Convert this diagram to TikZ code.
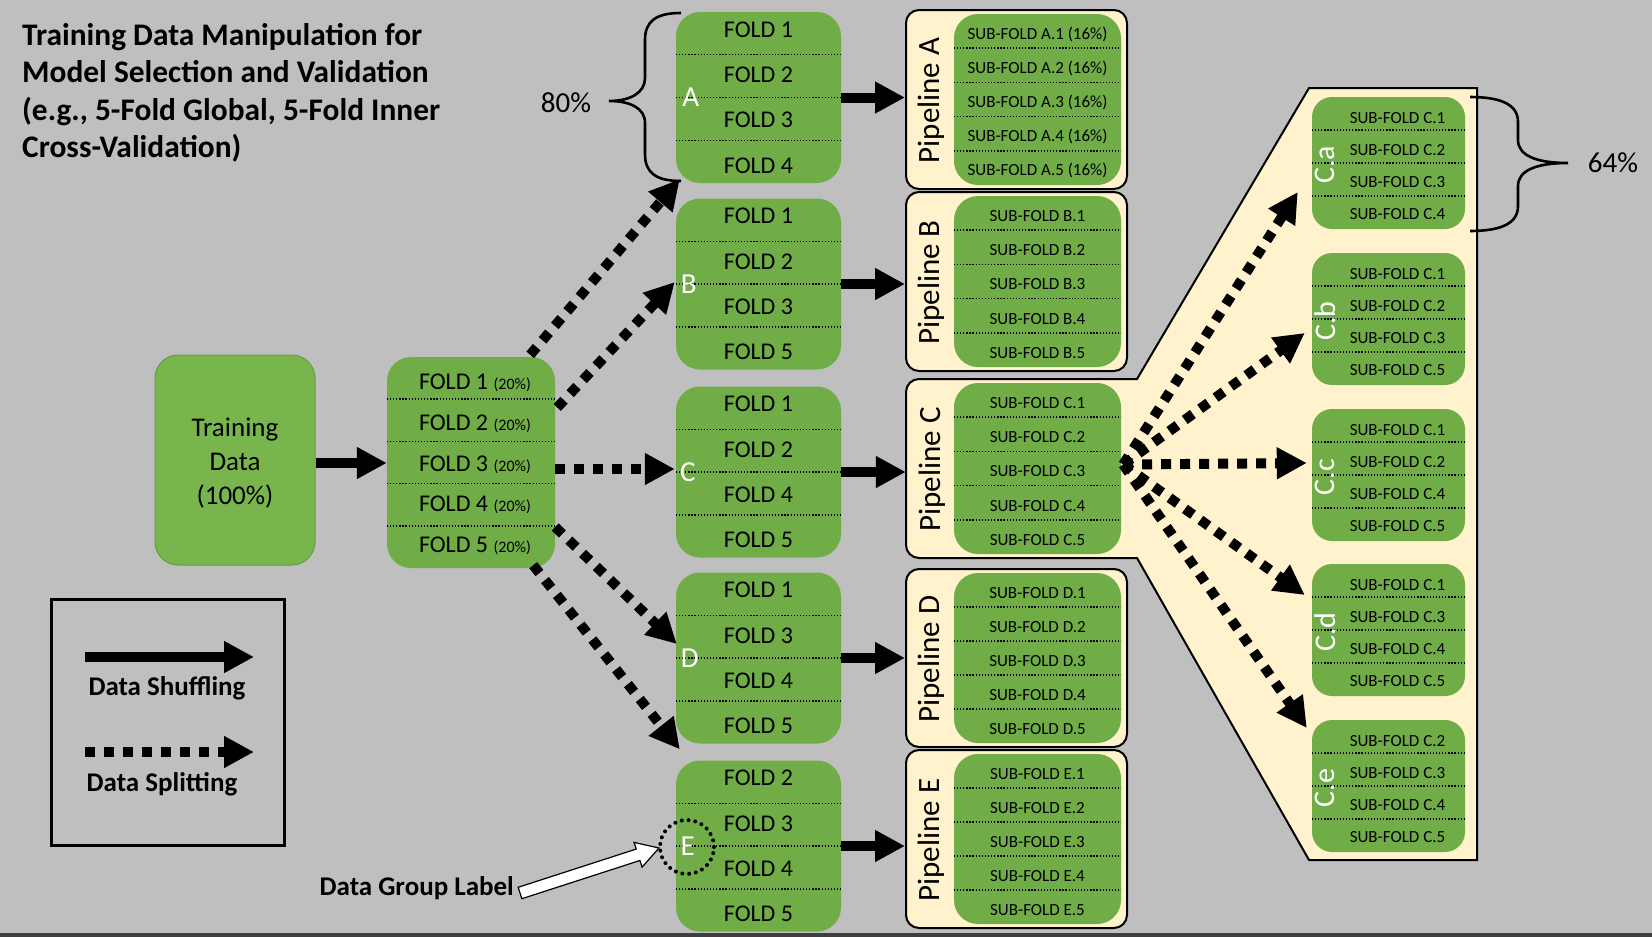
\documentclass[tikz,border=0pt]{standalone}
\usepackage{fontspec}
\setmainfont{Carlito}
\usetikzlibrary{arrows.meta,calc}
\definecolor{bg}{HTML}{BFBFBF}
\definecolor{grn}{HTML}{70AD47}
\definecolor{grnL}{HTML}{79B54D}
\definecolor{grnD}{HTML}{6A9E42}
\definecolor{cream}{HTML}{FFF2CC}
\definecolor{darkband}{HTML}{3F3F3F}
\newcommand{\myfs}[2]{\fontsize{#1}{#2}\selectfont}
% text spacing and vertical offset of the row texts (set before each call)
\def\tsp{40}\def\toff{0}
% name, style, center, width, height, nrows, rowstyle, list
\newcommand{\mkbox}[8]{%
  \node[#2, minimum width=#4pt, minimum height=#5pt] (#1) at (#3) {};
  \foreach \t [count=\i] in {#8} {%
    \node[#7] (#1-\i) at ($(#1.center)+(0,{(\i-(#6+1)/2)*\tsp+\toff})$) {\t};
    \ifnum\i>1
      \draw[sep] ($(#1.north west)!{(\i-1)/#6}!(#1.south west)$) -- ($(#1.north east)!{(\i-1)/#6}!(#1.south east)$);
    \fi
  }%
}
\begin{document}
\begin{tikzpicture}[x=1pt,y=-1pt,
  gbox/.style={fill=grn, rounded corners=24pt, inner sep=0pt},
  sbox/.style={fill=grn, rounded corners=20pt, inner sep=0pt},
  pipebox/.style={draw, line width=2pt, fill=cream, rounded corners=13pt, inner sep=0pt},
  foldtxt/.style={font=\myfs{24}{28}, inner sep=0pt},
  subtxt/.style={font=\myfs{17}{20}, inner sep=0pt},
  ctxt/.style={subtxt, xshift=9pt},
  grp/.style={font=\myfs{29}{34}, text=white, inner sep=0pt},
  pipelabel/.style={font=\myfs{31}{36}, rotate=90, inner sep=0pt},
  clabel/.style={font=\myfs{30}{34}, text=white, rotate=90, inner sep=0pt},
  sep/.style={line width=1.3pt, dash pattern=on 1.3pt off 1.8pt},
  shuf/.style={line width=10pt, -{Triangle[length=30pt,width=30pt]}},
  split/.style={line width=10pt, dash pattern=on 10pt off 9pt, -{Triangle[length=30pt,width=30pt]}},
  brace/.style={line width=2.6pt},
  boldtxt/.style={font=\bfseries\myfs{27}{32}, inner sep=0pt},
  pct/.style={font=\myfs{29}{34}, inner sep=0pt}
]
\fill[bg] (0,0) rectangle (1652,937);
\useasboundingbox (0,0) rectangle (1652,937);
\fill[darkband] (0,933) rectangle (1652,937);

% title
\node[anchor=north west, align=left, font=\bfseries\myfs{31.4}{37.5}, inner sep=0pt] (title) at (22,23)
  {Training Data Manipulation for\\Model Selection and Validation\\(e.g., 5-Fold Global, 5-Fold Inner\\Cross-Validation)};

% training data
\node[fill=grnL, draw=grnD, line width=1pt, rounded corners=23pt, minimum width=160pt, minimum height=210pt,
  inner sep=0pt] (td) at (235,460) {};
\node[align=center, font=\myfs{27}{34}, inner sep=0pt] (tdtxt) at ($(td.center)+(0,3)$) {Training\\Data\\(100\%)};

% main folds
\def\tsp{40.8}\def\toff{2}
\mkbox{mf}{gbox}{471,462.5}{168}{211}{5}{foldtxt, xshift=4pt}{FOLD 1 {\myfs{16}{18}(20\%)},FOLD 2 {\myfs{16}{18}(20\%)},FOLD 3 {\myfs{16}{18}(20\%)},FOLD 4 {\myfs{16}{18}(20\%)},FOLD 5 {\myfs{16}{18}(20\%)}}

% fold groups
\def\tsp{45.4}\def\toff{0}
\mkbox{foldA}{gbox}{758.5,97.5}{165}{171}{4}{foldtxt}{FOLD 1,FOLD 2,FOLD 3,FOLD 4}
\mkbox{foldB}{gbox}{758.5,284}{165}{171}{4}{foldtxt}{FOLD 1,FOLD 2,FOLD 3,FOLD 5}
\mkbox{foldC}{gbox}{758.5,472}{165}{171}{4}{foldtxt}{FOLD 1,FOLD 2,FOLD 4,FOLD 5}
\mkbox{foldD}{gbox}{758.5,658}{165}{171}{4}{foldtxt}{FOLD 1,FOLD 3,FOLD 4,FOLD 5}
\mkbox{foldE}{gbox}{758.5,846}{165}{171}{4}{foldtxt}{FOLD 2,FOLD 3,FOLD 4,FOLD 5}
\node[grp] (lA) at ($(foldA.west)+(15,0)$) {A};
\node[grp] (lB) at ($(foldB.west)+(13,0)$) {B};
\node[grp] (lC) at ($(foldC.west)+(12,0)$) {C};
\node[grp] (lD) at ($(foldD.west)+(14,0)$) {D};
\node[grp] (lE) at ($(foldE.west)+(12,0)$) {E};

% brace 80%
\draw[brace] (681,13) .. controls (655,13) and (645,22) .. (645,40) -- (645,78)
  .. controls (645,93) and (630,101) .. (609,101) .. controls (630,101) and (645,108) .. (645,123)
  -- (645,154) .. controls (645,172) and (655,181) .. (681,181);
\node[pct] (p80) at (566,103) {80\%};

% pipeline C + callout
\draw[line width=2pt, fill=cream] (1000,558) [rounded corners=13pt] -- (906,558) -- (906,379) -- (1000,379)
  [sharp corners] -- (1137,379) -- (1309,88) -- (1477,88) -- (1477,860) -- (1309,860) -- (1137,558) -- cycle;
\node[minimum width=221pt, minimum height=179pt, inner sep=0pt] (pipeC) at (1016.5,468.5) {};

% pipelines
\node[pipebox, minimum width=221pt, minimum height=179pt] (pipeA) at (1016.5,99.5) {};
\node[pipebox, minimum width=221pt, minimum height=179pt] (pipeB) at (1016.5,281.5) {};
\node[pipebox, minimum width=221pt, minimum height=178pt] (pipeD) at (1016.5,658) {};
\node[pipebox, minimum width=221pt, minimum height=178pt] (pipeE) at (1016.5,839) {};

\def\tsp{34.2}\def\toff{3}
\mkbox{pAin}{gbox}{1037.5,99.5}{167}{171}{5}{subtxt}{SUB-FOLD A.1 (16\%),SUB-FOLD A.2 (16\%),SUB-FOLD A.3 (16\%),SUB-FOLD A.4 (16\%),SUB-FOLD A.5 (16\%)}
\mkbox{pBin}{gbox}{1037.5,281.5}{167}{171}{5}{subtxt}{SUB-FOLD B.1,SUB-FOLD B.2,SUB-FOLD B.3,SUB-FOLD B.4,SUB-FOLD B.5}
\mkbox{pCin}{gbox}{1037.5,468.5}{167}{171}{5}{subtxt}{SUB-FOLD C.1,SUB-FOLD C.2,SUB-FOLD C.3,SUB-FOLD C.4,SUB-FOLD C.5}
\mkbox{pDin}{gbox}{1037.5,658}{167}{170}{5}{subtxt}{SUB-FOLD D.1,SUB-FOLD D.2,SUB-FOLD D.3,SUB-FOLD D.4,SUB-FOLD D.5}
\mkbox{pEin}{gbox}{1037.5,839}{167}{170}{5}{subtxt}{SUB-FOLD E.1,SUB-FOLD E.2,SUB-FOLD E.3,SUB-FOLD E.4,SUB-FOLD E.5}

\node[pipelabel] (tA) at ($(pipeA.west)+(26,1)$) {Pipeline A};
\node[pipelabel] (tB) at ($(pipeB.west)+(26,1)$) {Pipeline B};
\node[pipelabel] (tC) at ($(pipeC.west)+(26,1)$) {Pipeline C};
\node[pipelabel] (tD) at ($(pipeD.west)+(26,1)$) {Pipeline D};
\node[pipelabel] (tE) at ($(pipeE.west)+(26,1)$) {Pipeline E};

% inner C sub boxes
\def\tsp{31.8}\def\toff{3}
\mkbox{Ca}{sbox}{1388.5,163}{153}{132}{4}{ctxt}{SUB-FOLD C.1,SUB-FOLD C.2,SUB-FOLD C.3,SUB-FOLD C.4}
\mkbox{Cb}{sbox}{1388.5,319}{153}{132}{4}{ctxt}{SUB-FOLD C.1,SUB-FOLD C.2,SUB-FOLD C.3,SUB-FOLD C.5}
\mkbox{Cc}{sbox}{1388.5,475}{153}{132}{4}{ctxt}{SUB-FOLD C.1,SUB-FOLD C.2,SUB-FOLD C.4,SUB-FOLD C.5}
\mkbox{Cd}{sbox}{1388.5,630}{153}{132}{4}{ctxt}{SUB-FOLD C.1,SUB-FOLD C.3,SUB-FOLD C.4,SUB-FOLD C.5}
\mkbox{Ce}{sbox}{1388.5,786}{153}{132}{4}{ctxt}{SUB-FOLD C.2,SUB-FOLD C.3,SUB-FOLD C.4,SUB-FOLD C.5}
\node[clabel] (la) at ($(Ca.west)+(13,2)$) {C.a};
\node[clabel] (lb) at ($(Cb.west)+(13,2)$) {C.b};
\node[clabel] (lc) at ($(Cc.west)+(13,2)$) {C.c};
\node[clabel] (ld) at ($(Cd.west)+(13,2)$) {C.d};
\node[clabel] (le) at ($(Ce.west)+(13,2)$) {C.e};

% brace 64%
\draw[brace] (1470,97) .. controls (1500,97) and (1518,104) .. (1518,122) -- (1518,140)
  .. controls (1518,155) and (1535,163) .. (1568,163) .. controls (1535,163) and (1518,171) .. (1518,186)
  -- (1518,206) .. controls (1518,224) and (1500,231) .. (1470,231);
\node[pct] (p64) at (1613,163) {64\%};

% shuffling arrows
\draw[shuf] ($(td.east)+(0,3)$) -- ($(td.east -| mf.west)+(0,3)$);
\draw[shuf] (foldA.east) -- (foldA.east -| pipeA.west);
\draw[shuf] (foldB.east) -- (foldB.east -| pipeB.west);
\draw[shuf] (foldC.east) -- (foldC.east -| pipeC.west);
\draw[shuf] (foldD.east) -- (foldD.east -| pipeD.west);
\draw[shuf] (foldE.east) -- (foldE.east -| pipeE.west);

% splitting arrows
\draw[split] ($(mf.north east)+(-25,-2)$) -- ($(foldA.south west)+(4,-4)$);
\draw[split] ($(mf.east)+(2,-55)$) -- ($(foldB.west)+(-1,-2)$);
\draw[split] ($(mf.east)+(0,6.5)$) -- ($(foldC.west)+(-1,-3)$);
\draw[split] ($(mf.east)+(0,64.5)$) -- ($(foldD.west)+(1,-14)$);
\draw[split] ($(mf.south east)+(-22,-3)$) -- ($(foldE.north west)+(4,-11)$);

\coordinate (fan) at ($(pCin.east)+(2,-4)$);
\draw[split] (fan) -- ($(Ca.west)+(-14,29)$);
\draw[split] (fan) -- ($(Cb.west)+(-7,14)$);
\draw[split] (fan) -- ($(Cc.west)+(-5,-12)$);
\draw[split] (fan) -- ($(Cd.west)+(-7,-35)$);
\draw[split] (fan) -- ($(Ce.west)+(-5,-58)$);

% legend
\node[draw, line width=3pt, minimum width=233pt, minimum height=246pt, inner sep=0pt] (legend) at (167.5,722.5) {};
\coordinate (ls1) at (85,657); \coordinate (ls2) at (254,657);
\coordinate (lp1) at (85,752); \coordinate (lp2) at (254,752);
\draw[shuf] (ls1) -- (ls2);
\draw[split] (lp1) -- (lp2);
\node[boldtxt] (lshuf) at (167,688) {Data Shuffling};
\node[boldtxt] (lsplit) at (162,784) {Data Splitting};

% data group label
\node[draw, circle, minimum size=54pt, line width=4pt, line cap=round, dash pattern=on 0pt off 6.8pt, inner sep=0pt] (ecirc) at (687,847) {};
\node[boldtxt, anchor=east] (dgl) at (514,888) {Data Group Label};
\coordinate (wa) at ($(dgl.east)+(6,5)$);
\coordinate (wb) at ($(ecirc.west)+(1,1)$);
\coordinate (wn) at ($(wb)!22pt!(wa)$);
\draw[fill=white, line width=1.2pt] ($(wa)!6pt!90:(wb)$) -- ($(wn)!6pt!90:(wb)$) -- ($(wn)!13pt!90:(wb)$) -- (wb)
  -- ($(wn)!13pt!-90:(wb)$) -- ($(wn)!6pt!-90:(wb)$) -- ($(wa)!6pt!-90:(wb)$) -- cycle;
\end{tikzpicture}
\end{document}
